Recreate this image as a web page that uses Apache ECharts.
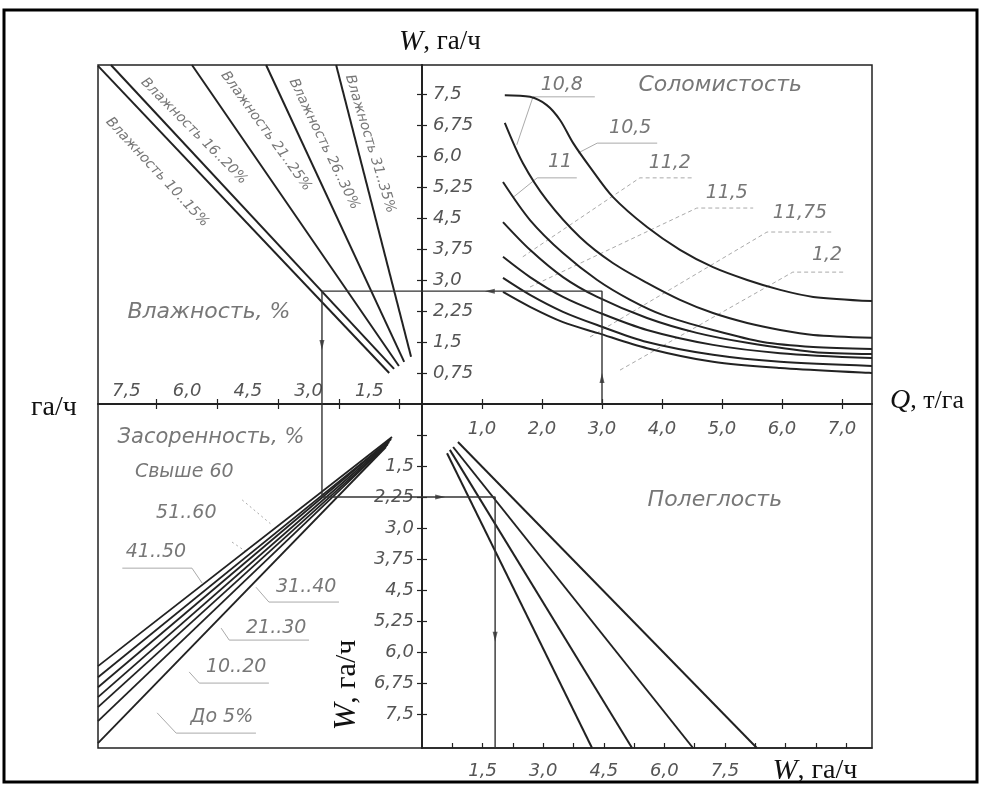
<!DOCTYPE html>
<html><head><meta charset="utf-8">
<script src="https://cdn.jsdelivr.net/npm/echarts@6/dist/echarts.min.js"></script>
<style>html,body{margin:0;padding:0;background:#fff}#c{width:984px;height:787px}</style>
</head><body><div id="c"></div>
<script>
// ---------- tick values ----------
const qTicks = [1, 2, 3, 4, 5, 6, 7];
const wTicks = [0.75, 1.5, 2.25, 3, 3.75, 4.5, 5.25, 6, 6.75, 7.5];
const humidityLabels = [1.5, 3, 4.5, 6, 7.5];
const humidityTicks = [0.75, 2.25, 3.75, 5.25, 6.75];
const weedLabels = [1.5, 2.25, 3, 3.75, 4.5, 5.25, 6, 6.75, 7.5];
const lodgingLabels = [1.5, 3, 4.5, 6, 7.5];
const lodgingTicks = [0.75, 1.5, 2.25, 3, 3.75, 4.5, 5.25, 6, 6.75, 7.5, 8.25, 9, 9.75, 10.5];

// ---------- Quadrant I: Соломистость (Q, т/га -> W, га/ч) ----------
const strawNames = ['10,8', '10,5', '11', '11,2', '11,5', '11,75', '1,2'];
const straw108 = [[1.38,7.47],[1.80,7.43],[2.08,7.23],[2.30,6.87],[2.52,6.31],[2.80,5.73],[3.18,5.01],[3.75,4.28],[4.30,3.73],[4.85,3.31],[5.42,3.00],[5.97,2.76],[6.52,2.59],[7.5,2.49]];
const straw105 = [[1.38,6.80],[1.68,5.83],[2.08,4.93],[2.63,4.04],[3.18,3.41],[3.75,2.93],[4.30,2.52],[4.85,2.20],[5.42,1.96],[5.97,1.79],[6.52,1.67],[7.5,1.60]];
const straw11 = [[1.35,5.37],[1.80,4.45],[2.35,3.65],[2.92,3.00],[3.47,2.52],[4.02,2.15],[4.85,1.79],[5.68,1.50],[6.52,1.38],[7.5,1.33]];
const straw112 = [[1.35,4.40],[1.80,3.73],[2.35,3.07],[2.92,2.59],[3.75,2.08],[4.58,1.72],[5.42,1.48],[6.52,1.26],[7.5,1.21]];
const straw115 = [[1.35,3.56],[1.80,3.07],[2.35,2.59],[2.92,2.23],[3.75,1.79],[4.85,1.43],[5.97,1.23],[7.5,1.11]];
const straw1175 = [[1.35,3.05],[1.80,2.64],[2.35,2.23],[2.92,1.91],[3.75,1.50],[4.85,1.19],[5.97,1.02],[7.5,0.92]];
const straw12 = [[1.35,2.71],[1.80,2.35],[2.35,1.98],[2.92,1.72],[3.75,1.35],[4.85,1.02],[5.97,0.87],[7.5,0.75]];
const strawCurves = [straw108, straw105, straw11, straw112, straw115, straw1175, straw12];

// ---------- Quadrant II: Влажность ----------
const humidityNames = ['Влажность 10..15%', 'Влажность 16..20%', 'Влажность 21..25%', 'Влажность 26..30%', 'Влажность 31..35%'];
const hum1015 = [[8.2,8.18],[1.01,0.75]];
const hum1620 = [[7.88,8.2],[0.89,0.85]];
const hum2125 = [[5.88,8.2],[0.77,0.92]];
const hum2630 = [[4.05,8.2],[0.64,1.02]];
const hum3135 = [[2.32,8.2],[0.47,1.14]];
const humidityLines = [hum1015, hum1620, hum2125, hum2630, hum3135];

// ---------- Quadrant III: Засоренность ----------
const weedNames = ['Свыше 60', '51..60', '41..50', '31..40', '21..30', '10..20', 'До 5%'];
const weedOver60 = [[0.94,0.80],[8.2,6.34]];
const weed5160 = [[0.96,0.85],[8.2,6.61]];
const weed4150 = [[0.99,0.87],[8.2,6.85]];
const weed3140 = [[1.01,0.92],[8.2,7.09]];
const weed2130 = [[1.04,0.97],[8.2,7.33]];
const weed1020 = [[1.06,0.99],[8.2,7.67]];
const weedTo5 = [[1.09,1.04],[8.2,8.2]];
const weedLines = [weedOver60, weed5160, weed4150, weed3140, weed2130, weed1020, weedTo5];

// ---------- Quadrant IV: Полеглость ----------
const lodging1 = [[0.62,1.19],[4.21,8.32]];
const lodging2 = [[0.69,1.11],[5.20,8.32]];
const lodging3 = [[0.77,1.04],[6.71,8.32]];
const lodging4 = [[0.89,0.92],[8.29,8.32]];
const lodgingLines = [lodging1, lodging2, lodging3, lodging4];

// ---------- worked example ----------
const exampleQ = 3.0, exampleW1 = 2.73, exampleW2 = 2.67, exampleW3 = 2.25, exampleW4 = 1.81;

// ---------- annotation anchors (data coordinates) ----------
const strawLabelPos = [[2.33,7.72],[3.47,6.68],[2.3,5.85],[4.13,5.83],[5.08,5.1],[6.3,4.62],[6.75,3.6]];
const strawLeaders = [
  [[1.58,6.27],[1.85,7.43],[2.88,7.43]],
  [[2.6,6.07],[2.92,6.31],[3.92,6.31]],
  [[1.52,5.0],[1.92,5.47],[2.58,5.47]],
  [[1.68,3.56],[3.63,5.47],[4.52,5.47]],
  [[1.8,2.83],[4.58,4.74],[5.52,4.74]],
  [[2.8,1.62],[5.75,4.16],[6.85,4.16]],
  [[3.3,0.82],[6.18,3.19],[7.02,3.19]]
];
const humidityLabelPos = [[6.74,5.61,-47],[5.83,6.60,-45],[4.05,6.60,-54],[2.62,6.29,-64],[1.48,6.29,-73]];
const weedLabelPos = [[6.07,1.64],[6.02,2.64],[6.77,3.58],[3.06,4.43],[3.80,5.42],[4.79,6.36],[5.14,7.57]];
const weedLeaders = [
  [[4.64,2.32],[3.9,2.93]],
  [[4.89,3.34],[4.5,3.6]],
  [[7.6,3.97],[5.88,3.97],[5.63,4.33]],
  [[4.3,4.43],[3.98,4.79],[2.25,4.79]],
  [[5.16,5.42],[4.96,5.71],[2.99,5.71]],
  [[5.95,6.48],[5.70,6.75],[3.98,6.75]],
  [[6.74,7.47],[6.27,7.96],[4.30,7.96]]
];

// ---------- styling ----------
const INK = '#222';
const TXT = '#555';
const FONT = "'DejaVu Sans',sans-serif";
const SERIF = "'Liberation Serif','DejaVu Serif',serif";
const fmt = v => (Number.isInteger(v) ? v.toFixed(1) : String(v)).replace('.', ',');
const lblStyle = {color: TXT, fontFamily: FONT, fontStyle: 'italic', fontSize: 18};

function axis(o) {
  return {
    type: 'value', gridIndex: o.grid, min: o.min, max: o.max, position: o.pos,
    inverse: !!o.inverse, splitLine: {show: false},
    axisLine: {show: true, onZero: false, lineStyle: {color: INK, width: 1.5}},
    axisTick: {show: true, inside: true, length: 5, customValues: o.ticks, lineStyle: {color: INK, width: 1.2}},
    axisLabel: o.labels ? Object.assign({show: true, customValues: o.labels, formatter: fmt, inside: !!o.inside, margin: o.margin}, lblStyle, o.lbl || {}) : {show: false}
  };
}

const series = [];
function line(data, xi, yi, extra) {
  series.push(Object.assign({type: 'line', data: data, xAxisIndex: xi, yAxisIndex: yi, showSymbol: false, symbol: 'none', silent: true,
    lineStyle: {color: INK, width: 2}, z: 3}, extra || {}));
}
strawCurves.forEach(c => line(c, 0, 0, {smooth: 0.3}));
humidityLines.forEach(c => line(c, 1, 1));
weedLines.forEach(c => line(c, 2, 2, {lineStyle: {color: INK, width: 1.8}}));
lodgingLines.forEach(c => line(c, 3, 3));

// worked example guide lines
const guide = {lineStyle: {color: '#333', width: 1.4}, z: 4};
line([[exampleQ, 0], [exampleQ, exampleW1], [0, exampleW1]], 0, 0, guide);
line([[0.2, exampleW1], [exampleW2, exampleW1], [exampleW2, 0]], 1, 1, guide);
line([[exampleW2, 0], [exampleW2, exampleW3], [0.2, exampleW3]], 2, 2, guide);
line([[0, exampleW3], [exampleW4, exampleW3], [exampleW4, 8.32]], 3, 3, guide);
function arrows(data, xi, yi) {
  series.push({type: 'scatter', xAxisIndex: xi, yAxisIndex: yi, silent: true, z: 5,
    symbol: 'triangle', symbolSize: [5, 10], itemStyle: {color: '#333'},
    data: data.map(d => ({value: [d[0], d[1]], symbolRotate: d[2]}))});
}
arrows([[exampleQ, 0.63, 0], [1.13, exampleW1, 90]], 0, 0);
arrows([[exampleW2, 1.43, 180]], 1, 1);
arrows([[0.45, exampleW3, -90], [exampleW4, 5.63, 180]], 3, 3);

// leaders
strawLeaders.forEach((l, i) => line(l, 0, 0, {lineStyle: {color: '#aaa', width: 1, type: i >= 3 ? [4, 3] : 'solid'}, z: 2}));
weedLeaders.forEach((l, i) => line(l, 2, 2, {lineStyle: {color: '#aaa', width: 1, type: i < 2 ? [2, 3] : 'solid'}, z: 2}));

// text labels
function texts(items, xi, yi, style) {
  series.push({type: 'scatter', xAxisIndex: xi, yAxisIndex: yi, silent: true, symbolSize: 0, z: 6,
    label: Object.assign({show: true, position: 'inside', formatter: '{b}', color: TXT, fontFamily: FONT, fontStyle: 'italic', fontSize: 19}, style || {}),
    data: items});
}
texts(strawNames.map((n, i) => ({name: n, value: strawLabelPos[i]})), 0, 0, {fontSize: 19});
texts([{name: 'Соломистость', value: [4.97, 7.72]}], 0, 0, {fontSize: 22});
texts(humidityNames.map((n, i) => ({name: n, value: humidityLabelPos[i].slice(0, 2), label: {rotate: humidityLabelPos[i][2]}})), 1, 1, {fontSize: 14});
texts([{name: 'Влажность, %', value: [5.46, 2.23]}], 1, 1, {fontSize: 22});
texts(weedNames.map((n, i) => ({name: n, value: weedLabelPos[i]})), 2, 2, {fontSize: 19});
texts([{name: 'Засоренность, %', value: [5.41, 0.82]}], 2, 2, {fontSize: 21});
texts([{name: 'Полеглость', value: [7.25, 2.32]}], 3, 3, {fontSize: 22});

function nameText(x, y, txt, size, rot) {
  const rich = {
    i: {fontFamily: SERIF, fontStyle: 'italic', fontSize: size + 2, fill: '#111'},
    r: {fontFamily: SERIF, fontSize: size, fill: '#111'}
  };
  return {type: 'text', x: x, y: y, rotation: rot || 0, silent: true,
    style: {text: txt, rich: rich, font: size + "px 'Liberation Serif'", fill: '#111', align: 'center', verticalAlign: 'middle'}};
}

const option = {
  backgroundColor: '#fff',
  animation: false,
  grid: [
    {left: 422, top: 65, width: 450, height: 339, show: true, borderColor: INK, borderWidth: 1.5},
    {left: 98, top: 65, width: 324, height: 339, show: true, borderColor: INK, borderWidth: 1.5},
    {left: 98, top: 404, width: 324, height: 344, show: true, borderColor: INK, borderWidth: 1.5},
    {left: 422, top: 404, width: 450, height: 344, show: true, borderColor: INK, borderWidth: 1.5}
  ],
  xAxis: [
    axis({grid: 0, min: 0, max: 7.5, pos: 'bottom', ticks: qTicks, labels: qTicks, margin: 16}),
    axis({grid: 1, min: 0.2, max: 8.2, pos: 'bottom', inverse: true, ticks: humidityTicks, labels: humidityLabels, inside: true, margin: 4}),
    axis({grid: 2, min: 0.2, max: 8.2, pos: 'top', inverse: true, ticks: humidityTicks}),
    axis({grid: 3, min: 0, max: 11.14, pos: 'bottom', ticks: lodgingTicks, labels: lodgingLabels, margin: 14}),
    axis({grid: 3, min: 0, max: 7.5, pos: 'top', ticks: qTicks})
  ],
  yAxis: [
    axis({grid: 0, min: 0, max: 8.2, pos: 'left', ticks: wTicks, labels: wTicks, inside: true, margin: 11}),
    axis({grid: 1, min: 0, max: 8.2, pos: 'right', ticks: wTicks}),
    axis({grid: 2, min: 0, max: 8.32, pos: 'right', inverse: true, ticks: wTicks, labels: weedLabels, inside: true, margin: 8}),
    axis({grid: 3, min: 0, max: 8.32, pos: 'left', inverse: true, ticks: wTicks})
  ],
  series: series,
  graphic: [
    {type: 'rect', silent: true, shape: {x: 4, y: 10, width: 973, height: 772}, style: {fill: 'none', stroke: '#000', lineWidth: 3}},
    nameText(440, 42, '{i|W}{r|, га/ч}', 27),
    nameText(54, 408, '{r|га/ч}', 28),
    nameText(927, 401, '{i|Q}{r|, т/га}', 26),
    nameText(815, 771, '{i|W}{r|, га/ч}', 28),
    nameText(347, 685, '{i|W}{r|, га/ч}', 30, Math.PI / 2)
  ]
};
const chart = echarts.init(document.getElementById('c'), null, {renderer: 'canvas'});
chart.setOption(option);
</script></body></html>
